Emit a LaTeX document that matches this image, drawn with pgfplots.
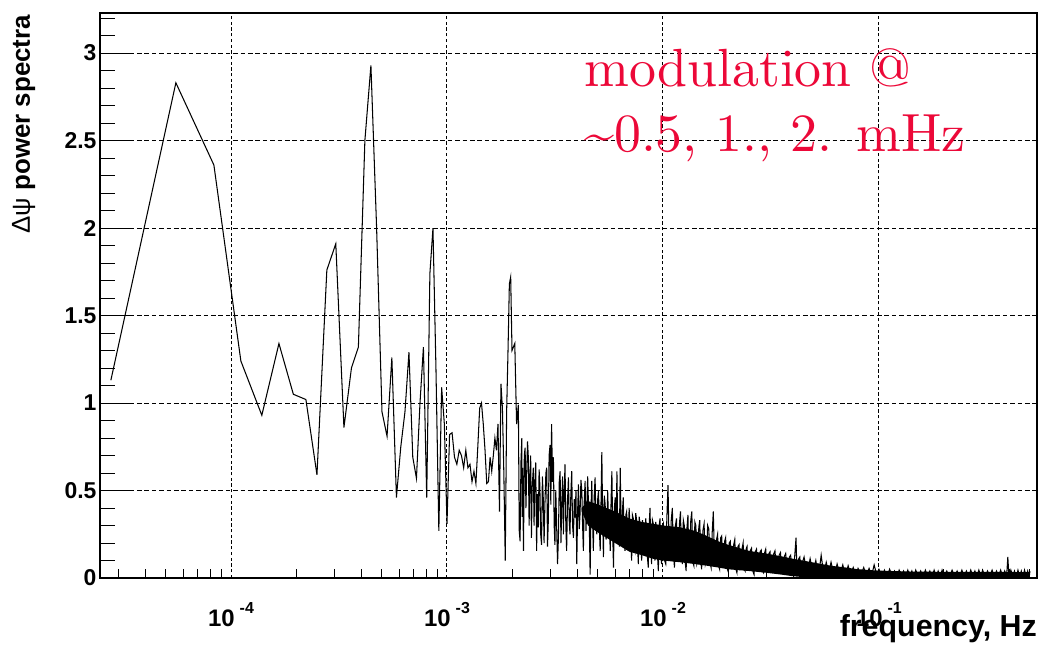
\documentclass[border=0pt]{standalone}
\usepackage{pgfplots}
\pgfplotsset{compat=1.18}
\usepackage{fontspec}
\newfontfamily\helv{Liberation Sans}
\newfontfamily\annotf{lmroman10-regular.otf}
\definecolor{annot}{RGB}{236,8,56}
\newcommand{\dec}[1]{10\hspace{5bp}\raisebox{13bp}{\fontsize{16}{16}\selectfont #1}}
\begin{document}
\begin{tikzpicture}
\useasboundingbox (0,0) rectangle (1039bp,645bp);
\begin{axis}[
  at={(100bp,67bp)}, anchor=south west,
  scale only axis, width=937bp, height=565bp,
  xmode=log, xmin=2.474e-5, xmax=0.539, ymin=0, ymax=3.229,
  axis line style={line width=1.3bp},
  xtick={1e-4,1e-3,1e-2,1e-1},
  xticklabels={\dec{-4},\dec{-3},\dec{-2},\dec{-1}},
  xtick style={draw=none},
  xticklabel style={font=\helv\bfseries\fontsize{24}{24}\selectfont, anchor=base, yshift=-48bp},
  ytick={0,0.5,1,1.5,2,2.5,3},
  yticklabels={0,0.5,1,1.5,2,2.5,3},
  minor ytick={0.1,0.2,...,3.2},
  yticklabel style={font=\helv\bfseries\fontsize{23}{23}\selectfont},
  ytick pos=left, tick align=inside,
  major tick length=30bp, minor tick length=15bp,
  ytick style={black, line width=1bp},
  xmajorgrids, ymajorgrids,
  x grid style={black, line width=1bp, dash pattern=on 3.3bp off 2.4bp},
  y grid style={black, line width=1bp, dash pattern=on 4.7bp off 2.7bp},
  ylabel={{\mdseries Δψ} power spectra},
  ylabel style={font=\helv\bfseries\fontsize{26}{26}\selectfont, inner sep=0pt, at={(rel axis cs:-0.094,0.997)}, anchor=north east},
  xlabel={frequency, Hz},
  xlabel style={font=\helv\bfseries\fontsize{30.5}{30.5}\selectfont, inner sep=0pt, at={(rel axis cs:1,-0.1027)}, anchor=base east},
]
% solid core of the dense noise band: upper edge left to right, lower edge right to left
\addplot[fill=black, draw=none, forget plot] table {
f v
4.2e-3 0.40
4.5e-3 0.44
5.0e-3 0.42
6.0e-3 0.38
7.0e-3 0.34
8.0e-3 0.32
9.0e-3 0.31
1.0e-2 0.30
1.2e-2 0.29
1.4e-2 0.27
1.6e-2 0.24
1.8e-2 0.21
2.0e-2 0.19
2.5e-2 0.155
3.0e-2 0.14
3.5e-2 0.125
4.0e-2 0.11
5.0e-2 0.088
6.0e-2 0.07
7.0e-2 0.06
8.0e-2 0.05
1.0e-1 0.042
1.5e-1 0.036
5.0e-1 0.034
5.0e-1 0.0
5.0e-2 0.0
4.0e-2 0.01
3.5e-2 0.02
3.0e-2 0.03
2.5e-2 0.04
2.0e-2 0.05
1.8e-2 0.06
1.6e-2 0.07
1.4e-2 0.08
1.2e-2 0.09
1.0e-2 0.10
9.0e-3 0.11
8.0e-3 0.13
7.0e-3 0.15
6.0e-3 0.20
5.0e-3 0.26
4.5e-3 0.30
4.2e-3 0.38
} -- cycle;
% spectrum trace
\addplot[black, line width=1.05bp] table {
f v
2.778e-5 1.13
5.556e-5 2.83
8.333e-5 2.36
1.111e-4 1.24
1.389e-4 0.93
1.667e-4 1.34
1.944e-4 1.05
2.222e-4 1.02
2.500e-4 0.59
2.778e-4 1.76
3.056e-4 1.91
3.333e-4 0.86
3.611e-4 1.20
3.889e-4 1.32
4.167e-4 2.50
4.444e-4 2.93
4.722e-4 2.00
5.000e-4 0.95
5.278e-4 0.81
5.556e-4 1.26
5.833e-4 0.46
6.111e-4 0.75
6.389e-4 0.95
6.667e-4 1.29
6.944e-4 0.69
7.222e-4 0.57
7.500e-4 1.00
7.778e-4 1.32
8.056e-4 0.46
8.333e-4 1.74
8.611e-4 2.00
8.889e-4 1.20
9.167e-4 0.27
9.444e-4 1.09
9.722e-4 0.88
1.0000e-3 0.31
1.0278e-3 0.82
1.0556e-3 0.83
1.0833e-3 0.69
1.1111e-3 0.65
1.1389e-3 0.73
1.1667e-3 0.70
1.1944e-3 0.63
1.2222e-3 0.73
1.2500e-3 0.63
1.2778e-3 0.65
1.3056e-3 0.55
1.3333e-3 0.61
1.3611e-3 0.54
1.3889e-3 0.75
1.4167e-3 0.97
1.4444e-3 1.00
1.4722e-3 0.88
1.5000e-3 0.73
1.5278e-3 0.54
1.5556e-3 0.55
1.5833e-3 0.69
1.6111e-3 0.61
1.6389e-3 0.70
1.6667e-3 0.80
1.6944e-3 0.73
1.7222e-3 0.88
1.7500e-3 0.38
1.7778e-3 1.11
1.8056e-3 0.97
1.8333e-3 0.60
1.8611e-3 0.10
1.8889e-3 0.95
1.9167e-3 1.30
1.9444e-3 1.68
1.9722e-3 1.72
2.0000e-3 1.30
2.06e-3 1.34
2.10e-3 0.88
2.14e-3 0.99
2.16e-3 0.27
2.18e-3 0.21
2.20e-3 0.66
2.22e-3 0.80
2.23e-3 0.35
2.24e-3 0.63
2.26e-3 0.155
2.28e-3 0.70
2.30e-3 0.745
2.32e-3 0.40
2.34e-3 0.61
2.36e-3 0.78
2.38e-3 0.69
2.40e-3 0.30
2.42e-3 0.575
2.44e-3 0.70
2.46e-3 0.23
2.48e-3 0.52
2.51e-3 0.63
2.53e-3 0.30
2.55e-3 0.535
2.575e-3 0.66
2.60e-3 0.155
2.62e-3 0.48
2.645e-3 0.29
2.67e-3 0.62
2.69e-3 0.535
2.715e-3 0.25
2.74e-3 0.19
2.765e-3 0.58
2.79e-3 0.46
2.815e-3 0.20
2.84e-3 0.42
2.87e-3 0.60
2.895e-3 0.63
2.92e-3 0.18
2.945e-3 0.325
2.97e-3 0.70
3.00e-3 0.76
3.025e-3 0.42
3.05e-3 0.88
3.08e-3 0.55
3.11e-3 0.69
3.135e-3 0.30
3.16e-3 0.19
3.19e-3 0.50
3.22e-3 0.29
3.25e-3 0.08
3.28e-3 0.23
3.31e-3 0.55
3.34e-3 0.61
3.37e-3 0.20
3.40e-3 0.42
3.43e-3 0.58
3.46e-3 0.25
3.49e-3 0.50
3.52e-3 0.65
3.55e-3 0.30
3.58e-3 0.155
3.615e-3 0.44
3.65e-3 0.575
3.68e-3 0.33
3.71e-3 0.25
3.745e-3 0.48
3.78e-3 0.61
3.815e-3 0.30
3.85e-3 0.23
3.885e-3 0.45
3.92e-3 0.345
3.955e-3 0.50
3.99e-3 0.08
4.025e-3 0.38
4.06e-3 0.535
4.095e-3 0.28
4.13e-3 0.365
4.17e-3 0.56
4.21e-3 0.50
4.245e-3 0.30
4.28e-3 0.155
4.32e-3 0.44
4.36e-3 0.555
4.40e-3 0.27
4.44e-3 0.40
4.48e-3 0.58
4.52e-3 0.42
4.56e-3 0.30
4.60e-3 0.02
4.64e-3 0.38
4.68e-3 0.555
4.72e-3 0.33
4.76e-3 0.155
4.80e-3 0.46
4.85e-3 0.575
4.895e-3 0.30
4.94e-3 0.25
4.985e-3 0.45
5.03e-3 0.50
5.075e-3 0.28
5.12e-3 0.155
5.165e-3 0.43
5.21e-3 0.72
5.255e-3 0.35
5.30e-3 0.12
5.35e-3 0.47
5.40e-3 0.42
5.45e-3 0.22
5.50e-3 0.25
5.545e-3 0.50
5.59e-3 0.345
5.645e-3 0.30
5.70e-3 0.155
5.75e-3 0.44
5.80e-3 0.61
5.85e-3 0.26
5.90e-3 0.06
5.955e-3 0.40
6.01e-3 0.46
6.065e-3 0.22
6.12e-3 0.61
6.17e-3 0.30
6.22e-3 0.36
6.28e-3 0.18
6.34e-3 0.63
6.395e-3 0.32
6.45e-3 0.27
6.50e-3 0.40
6.55e-3 0.46
6.61e-3 0.22
6.67e-3 0.155
6.73e-3 0.36
6.79e-3 0.38
6.85e-3 0.16
6.91e-3 0.21
6.97e-3 0.40
7.03e-3 0.31
7.10e-3 0.20
7.16e-3 0.10
7.22e-3 0.36
7.29e-3 0.34
7.35e-3 0.18
7.42e-3 0.155
7.48e-3 0.37
7.55e-3 0.33
7.62e-3 0.19
7.69e-3 0.08
7.76e-3 0.35
7.83e-3 0.31
7.90e-3 0.17
7.97e-3 0.10
8.04e-3 0.33
8.11e-3 0.27
8.18e-3 0.15
8.25e-3 0.14
8.32e-3 0.34
8.40e-3 0.27
8.47e-3 0.12
8.55e-3 0.06
8.63e-3 0.30
8.71e-3 0.40
8.78e-3 0.16
8.86e-3 0.08
8.94e-3 0.33
9.02e-3 0.31
9.10e-3 0.14
9.18e-3 0.10
9.26e-3 0.32
9.35e-3 0.27
9.43e-3 0.13
9.52e-3 0.04
9.60e-3 0.30
9.69e-3 0.34
9.77e-3 0.12
9.86e-3 0.08
9.94e-3 0.29
1.003e-2 0.31
1.017e-2 0.10
1.030e-2 0.08
1.042e-2 0.34
1.055e-2 0.53
1.067e-2 0.20
1.080e-2 0.12
1.092e-2 0.33
1.105e-2 0.40
1.117e-2 0.15
1.130e-2 0.06
1.142e-2 0.30
1.155e-2 0.34
1.167e-2 0.10
1.180e-2 0.14
1.192e-2 0.31
1.205e-2 0.38
1.217e-2 0.12
1.230e-2 0.08
1.242e-2 0.33
1.255e-2 0.30
1.267e-2 0.09
1.280e-2 0.04
1.292e-2 0.29
1.305e-2 0.36
1.317e-2 0.11
1.330e-2 0.12
1.345e-2 0.33
1.360e-2 0.38
1.375e-2 0.09
1.390e-2 0.07
1.405e-2 0.32
1.420e-2 0.30
1.435e-2 0.08
1.450e-2 0.10
1.465e-2 0.29
1.480e-2 0.33
1.495e-2 0.10
1.510e-2 0.05
1.530e-2 0.27
1.550e-2 0.31
1.570e-2 0.08
1.590e-2 0.11
1.610e-2 0.30
1.630e-2 0.28
1.650e-2 0.09
1.670e-2 0.06
1.690e-2 0.26
1.710e-2 0.38
1.730e-2 0.12
1.750e-2 0.09
1.770e-2 0.22
1.790e-2 0.25
1.810e-2 0.07
1.830e-2 0.05
1.850e-2 0.23
1.870e-2 0.24
1.890e-2 0.08
1.910e-2 0.10
1.930e-2 0.21
1.950e-2 0.23
1.975e-2 0.06
2.000e-2 0.04
2.025e-2 0.20
2.050e-2 0.21
2.075e-2 0.07
2.100e-2 0.06
2.125e-2 0.19
2.150e-2 0.22
2.175e-2 0.05
2.200e-2 0.03
2.225e-2 0.18
2.250e-2 0.19
2.275e-2 0.06
2.300e-2 0.08
2.325e-2 0.17
2.350e-2 0.20
2.375e-2 0.05
2.400e-2 0.04
2.425e-2 0.165
2.450e-2 0.18
2.475e-2 0.06
2.500e-2 0.07
2.535e-2 0.155
2.570e-2 0.17
2.605e-2 0.04
2.640e-2 0.02
2.675e-2 0.15
2.710e-2 0.165
2.745e-2 0.05
2.780e-2 0.06
2.815e-2 0.15
2.850e-2 0.16
2.885e-2 0.04
2.920e-2 0.03
2.955e-2 0.145
2.990e-2 0.165
3.025e-2 0.05
3.060e-2 0.07
3.095e-2 0.14
3.130e-2 0.15
3.165e-2 0.04
3.200e-2 0.04
3.250e-2 0.135
3.300e-2 0.155
3.350e-2 0.05
3.400e-2 0.06
3.450e-2 0.13
3.500e-2 0.145
3.550e-2 0.04
3.600e-2 0.03
3.650e-2 0.125
3.700e-2 0.14
3.750e-2 0.05
3.800e-2 0.06
3.850e-2 0.12
3.900e-2 0.13
3.950e-2 0.04
4.000e-2 0.04
4.065e-2 0.11
4.130e-2 0.23
4.165e-2 0.06
4.200e-2 0.05
4.250e-2 0.11
4.300e-2 0.12
4.350e-2 0.04
4.400e-2 0.03
4.450e-2 0.10
4.500e-2 0.12
4.65e-2 0.02
4.80e-2 0.11
4.95e-2 0.03
5.10e-2 0.10
5.25e-2 0.01
5.40e-2 0.13
5.55e-2 0.02
5.70e-2 0.09
5.85e-2 0.03
6.00e-2 0.09
6.20e-2 0.01
6.40e-2 0.08
6.60e-2 0.02
6.80e-2 0.075
7.00e-2 0.01
7.20e-2 0.07
7.40e-2 0.02
7.60e-2 0.06
7.80e-2 0.01
8.00e-2 0.055
8.25e-2 0.02
8.50e-2 0.06
8.75e-2 0.01
9.00e-2 0.055
9.25e-2 0.015
9.50e-2 0.075
9.75e-2 0.02
1.00e-1 0.05
1.03e-1 0.01
1.06e-1 0.045
1.09e-1 0.005
1.12e-1 0.05
1.15e-1 0.01
1.18e-1 0.04
1.21e-1 0.005
1.24e-1 0.045
1.27e-1 0.01
1.30e-1 0.04
1.33e-1 0.005
1.36e-1 0.045
1.39e-1 0.01
1.42e-1 0.04
1.45e-1 0.005
1.48e-1 0.045
1.52e-1 0.01
1.56e-1 0.04
1.60e-1 0.005
1.64e-1 0.045
1.68e-1 0.01
1.72e-1 0.04
1.76e-1 0.005
1.80e-1 0.045
1.84e-1 0.01
1.88e-1 0.04
1.92e-1 0.005
1.96e-1 0.045
2.00e-1 0.01
2.06e-1 0.04
2.12e-1 0.005
2.18e-1 0.045
2.24e-1 0.01
2.30e-1 0.04
2.36e-1 0.005
2.42e-1 0.045
2.48e-1 0.01
2.54e-1 0.04
2.60e-1 0.005
2.66e-1 0.045
2.72e-1 0.01
2.78e-1 0.04
2.84e-1 0.005
2.90e-1 0.045
2.96e-1 0.01
3.02e-1 0.045
3.10e-1 0.005
3.18e-1 0.04
3.26e-1 0.01
3.34e-1 0.045
3.42e-1 0.005
3.50e-1 0.04
3.58e-1 0.01
3.66e-1 0.045
3.74e-1 0.005
3.82e-1 0.04
3.90e-1 0.01
3.95e-1 0.12
4.00e-1 0.005
4.08e-1 0.045
4.16e-1 0.01
4.24e-1 0.04
4.32e-1 0.005
4.40e-1 0.045
4.48e-1 0.01
4.56e-1 0.04
4.64e-1 0.005
4.72e-1 0.045
4.80e-1 0.01
4.88e-1 0.04
4.96e-1 0.005
5.00e-1 0.04
};
\end{axis}
\begin{axis}[
  at={(100bp,67bp)}, anchor=south west,
  scale only axis, width=937bp, height=565bp,
  xmode=log, xmin=2.474e-5, xmax=0.539, ymin=0, ymax=3.229,
  axis line style={draw=none},
  ytick=\empty,
  xtick={3e-5,4e-5,5e-5,6e-5,7e-5,8e-5,9e-5,2e-4,3e-4,4e-4,5e-4,6e-4,7e-4,8e-4,9e-4,2e-3,3e-3,4e-3,5e-3,6e-3,7e-3,8e-3,9e-3,2e-2,3e-2,4e-2,5e-2,6e-2,7e-2,8e-2,9e-2,2e-1,3e-1,4e-1,5e-1},
  xticklabel={\relax},
  xtick pos=left, tick align=inside,
  major tick length=9bp,
  xtick style={black, line width=1bp},
]
\addplot[draw=none, forget plot] coordinates {(1e-3,1) (1e-2,2)};
\end{axis}
\node[anchor=base west, inner sep=0pt, text=annot, font=\annotf\fontsize{54}{65}\selectfont] at (584bp,558bp) {modulation @};
\node[anchor=base west, inner sep=0pt, text=annot, font=\annotf\fontsize{54}{65}\selectfont] at (584bp,493bp) {\textasciitilde0.5, 1., 2. mHz};
\end{tikzpicture}
\end{document}
